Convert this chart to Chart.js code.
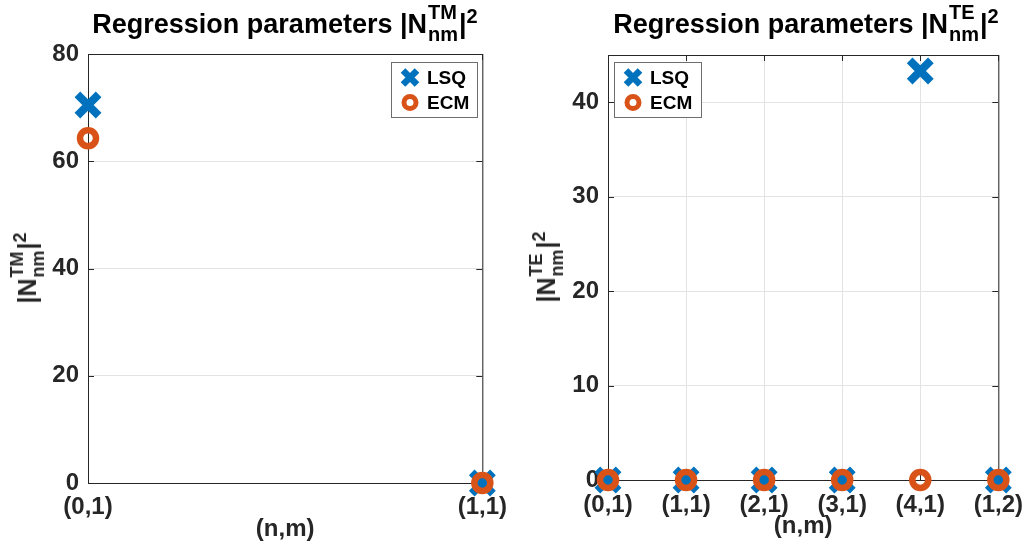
<!DOCTYPE html>
<html lang="en">
<head>
<meta charset="UTF-8">
<title>Regression parameters</title>
<script src="https://cdn.jsdelivr.net/npm/chart.js"></script>
<style>
  body { margin: 0; width: 1034px; height: 550px; background: #fff; position: relative; overflow: hidden;
         font-family: 'Liberation Sans', Arial, sans-serif; font-weight: bold; }
  .box { position: absolute; top: 0; width: 517px; height: 550px; }
  .ttl { position: absolute; white-space: nowrap; font-size: 27px; line-height: 27px; color: #000;
         transform: translateX(-50%); }
  .ylab { position: absolute; white-space: nowrap; font-size: 25px; line-height: 25px; color: #262626;
          transform: translate(-50%, -50%) rotate(-90deg); }
  .stk { display: inline-block; vertical-align: -8px; font-size: 18px; text-align: left; margin: 0 1px; }
  .stk span { display: block; line-height: 21px; }
  .ttl .stk { font-size: 20px; }
  .ttl .stk span { line-height: 22px; }
  .sp { font-size: 18px; line-height: 18px; vertical-align: 10px; }
  .ttl .sp { font-size: 20px; }
</style>
</head>
<body>
  <div class="box" style="left:0"><canvas id="tm" width="517" height="550"></canvas></div>
  <div class="box" style="left:517px"><canvas id="te" width="517" height="550"></canvas></div>

  <div class="ttl" style="left:285px; top:1px">Regression parameters |N<span class="stk"><span>TM</span><span>nm</span></span>|<span class="sp">2</span></div>
  <div class="ttl" style="left:806px; top:1px">Regression parameters |N<span class="stk"><span>TE</span><span>nm</span></span>|<span class="sp">2</span></div>

  <div class="ylab" style="left:28px; top:268px">|N<span class="stk"><span>TM</span><span>nm</span></span>|<span class="sp">2</span></div>
  <div class="ylab" style="left:547px; top:267px">|N<span class="stk"><span>TE</span><span>nm</span></span>|<span class="sp">2</span></div>

<script>
// values
const catsTM = ['(0,1)', '(1,1)'];
const lsqTM = [70.5, 0];
const ecmTM = [64.3, 0];

const catsTE = ['(0,1)', '(1,1)', '(2,1)', '(3,1)', '(4,1)', '(1,2)'];
const lsqTE = [0, 0, 0, 0, 43.3, 0];
const ecmTE = [0, 0, 0, 0, 0, 0];

const blue = '#0072BD';
const orange = '#D95319';
const axisColor = '#262626';
const gridColor = '#e3e3e3';
const tickFont = { family: "'Liberation Sans', Arial, sans-serif", size: 24, weight: 'bold' };

// black box around the axes, with small inward ticks like matlab
const frame = {
  id: 'frame',
  beforeDatasetsDraw(chart) {
    const { ctx, chartArea: a, scales: { x, y } } = chart;
    ctx.save();
    ctx.strokeStyle = axisColor;
    ctx.lineWidth = 1;
    ctx.strokeRect(a.left + 0.5, a.top + 0.5, a.right - a.left, a.bottom - a.top);
    ctx.beginPath();
    y.ticks.forEach(t => {
      const py = Math.round(y.getPixelForValue(t.value)) + 0.5;
      ctx.moveTo(a.left, py); ctx.lineTo(a.left + 6, py);
      ctx.moveTo(a.right, py); ctx.lineTo(a.right - 6, py);
    });
    x.ticks.forEach((t, i) => {
      const px = Math.round(x.getPixelForTick(i)) + 0.5;
      ctx.moveTo(px, a.bottom); ctx.lineTo(px, a.bottom - 6);
      ctx.moveTo(px, a.top); ctx.lineTo(px, a.top + 6);
    });
    ctx.stroke();
    ctx.restore();
  }
};

// legend box in the corner of the axes
const boxLegend = {
  id: 'boxLegend',
  afterDraw(chart, args, opts) {
    const ctx = chart.ctx;
    ctx.save();
    ctx.fillStyle = '#fff';
    ctx.fillRect(opts.x, opts.y, opts.w, opts.h);
    ctx.strokeStyle = '#6e6e6e';
    ctx.lineWidth = 1;
    ctx.strokeRect(opts.x + 0.5, opts.y + 0.5, opts.w, opts.h);
    chart.data.datasets.forEach((ds, i) => {
      const cy = opts.y + 15.5 + i * 25;
      const cx = opts.x + 19;
      ctx.strokeStyle = ds.pointBorderColor;
      if (ds.pointStyle === 'crossRot') {
        const r = 7;
        ctx.lineWidth = 6.5;
        ctx.beginPath();
        ctx.moveTo(cx - r, cy - r); ctx.lineTo(cx + r, cy + r);
        ctx.moveTo(cx - r, cy + r); ctx.lineTo(cx + r, cy - r);
        ctx.stroke();
      } else {
        ctx.lineWidth = 5;
        ctx.beginPath();
        ctx.arc(cx, cy, 6, 0, Math.PI * 2);
        ctx.stroke();
      }
      ctx.fillStyle = '#000';
      ctx.font = "bold 19px 'Liberation Sans', Arial, sans-serif";
      ctx.textBaseline = 'middle';
      ctx.fillText(ds.label, opts.x + 36, cy + 1);
    });
    ctx.restore();
  }
};

function makeChart(id, cats, lsq, ecm, cfg) {
  return new Chart(document.getElementById(id), {
    type: 'line',
    data: {
      labels: cats,
      datasets: [
        {
          label: 'LSQ', data: lsq, showLine: false, clip: false, order: 2,
          pointStyle: 'crossRot', pointRadius: 15, pointHoverRadius: 15, pointBorderWidth: 8,
          pointBorderColor: blue, pointBackgroundColor: blue, borderColor: blue
        },
        {
          label: 'ECM', data: ecm, showLine: false, clip: false, order: 1,
          pointStyle: 'circle', pointRadius: 8, pointHoverRadius: 8, pointBorderWidth: 6.5,
          pointBorderColor: orange, pointBackgroundColor: 'rgba(0,0,0,0)', borderColor: orange
        }
      ]
    },
    options: {
      responsive: false,
      animation: false,
      layout: { padding: cfg.padding },
      plugins: {
        legend: { display: false },
        tooltip: { enabled: false },
        boxLegend: cfg.legend
      },
      scales: {
        x: {
          type: 'category',
          offset: false,
          grid: { color: gridColor, drawTicks: false },
          border: { display: false },
          ticks: { font: tickFont, color: axisColor, padding: cfg.xPad, maxRotation: 0, autoSkip: false },
          title: { display: true, text: '(n,m)', font: tickFont, color: axisColor, padding: { top: 0, bottom: cfg.titlePad } },
          afterFit(s) { s.height = cfg.xHeight; }
        },
        y: {
          min: 0,
          max: cfg.yMax,
          grid: { color: gridColor, drawTicks: false },
          border: { display: false },
          ticks: { stepSize: cfg.step, font: tickFont, color: axisColor, padding: 9 },
          afterBuildTicks(s) { s.ticks = s.ticks.filter(t => t.value % cfg.step === 0); },
          afterFit(s) { s.width = cfg.yWidth; }
        }
      }
    },
    plugins: [frame, boxLegend]
  });
}

makeChart('tm', catsTM, lsqTM, ecmTM, {
  padding: { top: 54, right: 34, bottom: 0, left: 0 },
  yMax: 80, step: 20, yWidth: 88, xHeight: 67, xPad: 10, titlePad: 6,
  legend: { x: 391, y: 62, w: 86, h: 55 }
});

makeChart('te', catsTE, lsqTE, ecmTE, {
  padding: { top: 55, right: 30, bottom: 0, left: 0 },
  yMax: 45, step: 10, yWidth: 91, xHeight: 70, xPad: 11, titlePad: 9,
  legend: { x: 97, y: 62, w: 87, h: 55 }
});
</script>
</body>
</html>
